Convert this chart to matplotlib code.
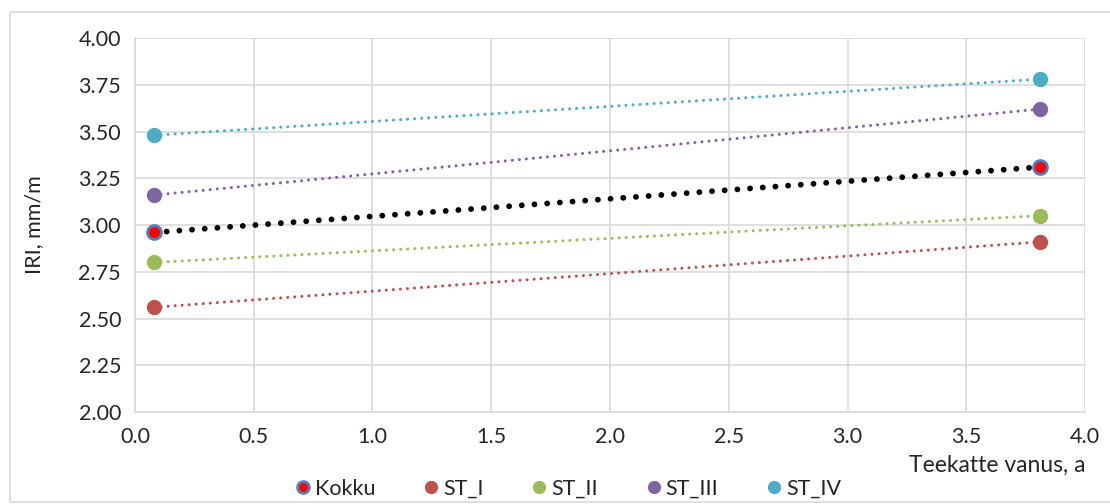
import numpy as np
import matplotlib
matplotlib.use("Agg")
import matplotlib.pyplot as plt
from matplotlib.patches import Rectangle

plt.rcParams['font.family'] = ['Lato', 'DejaVu Sans']

# Pavement age (years) and IRI values per road class
age = [0.08, 3.81]
kokku = [2.96, 3.31]
st_i = [2.56, 2.91]
st_ii = [2.80, 3.05]
st_iii = [3.16, 3.62]
st_iv = [3.48, 3.78]

series_names = ["Kokku", "ST_I", "ST_II", "ST_III", "ST_IV"]
x_ticks = [0.0, 0.5, 1.0, 1.5, 2.0, 2.5, 3.0, 3.5, 4.0]
y_ticks = [2.00, 2.25, 2.50, 2.75, 3.00, 3.25, 3.50, 3.75, 4.00]

colors = {
    "ST_I": "#C0504D",
    "ST_II": "#9BBB59",
    "ST_III": "#8064A2",
    "ST_IV": "#4BACC6",
}

fig = plt.figure(figsize=(11.1, 5.04), dpi=100)
ax = fig.add_axes([0.1216, 0.1825, 0.8559, 0.7421])

# outer chart frame
fig.patches.append(Rectangle((0.009, 0.004), 1.05, 0.972, transform=fig.transFigure,
                             fill=False, edgecolor="#d9d9d9", linewidth=1.2))

xs = np.array(age)

def trend(vals, color, lw, dash):
    k, b = np.polyfit(xs, vals, 1)
    ln, = ax.plot(xs, k * xs + b, color=color, linewidth=lw, zorder=2,
                  dash_capstyle="round", solid_capstyle="round")
    ln.set_linestyle((0, dash))

# colored series with their linear trendlines
for name, vals in [("ST_I", st_i), ("ST_II", st_ii), ("ST_III", st_iii), ("ST_IV", st_iv)]:
    trend(vals, colors[name], 2.2, (0.01, 2.3))
    ax.plot(age, vals, linestyle="none", marker="o", markersize=10,
            color=colors[name], label=name, zorder=3)

# total series
trend(kokku, "black", 4.2, (0.01, 2.17))
ax.plot(age, kokku, linestyle="none", marker="o", markersize=10,
        markerfacecolor="#FF0000", markeredgecolor="#4F81BD", markeredgewidth=2.0,
        label="Kokku", zorder=4)

ax.set_xlim(0, 4)
ax.set_ylim(2, 4)
ax.set_xticks(x_ticks)
ax.set_xticklabels([f"{v:.1f}" for v in x_ticks])
ax.set_yticks(y_ticks)
ax.set_yticklabels([f"{v:.2f}" for v in y_ticks])
ax.tick_params(axis="both", length=0, labelsize=15.5, colors="#262626", pad=10)
ax.tick_params(axis="x", pad=11)
ax.grid(True, color="#d9d9d9", linewidth=1.2)
ax.set_axisbelow(True)
for s in ["top", "right"]:
    ax.spines[s].set_visible(False)
for s in ["left", "bottom"]:
    ax.spines[s].set_color("#d9d9d9")
    ax.spines[s].set_linewidth(1.2)

fig.text(0.031, 0.555, "IRI, mm/m", rotation=90, ha="center", va="center",
         fontsize=15.5, color="#262626")
fig.text(0.978, 0.076, "Teekatte vanus, a", ha="right", va="center",
         fontsize=16.5, color="#262626")

handles, labels = ax.get_legend_handles_labels()
order = [labels.index(n) for n in series_names]
fig.legend([handles[i] for i in order], [labels[i] for i in order],
           loc="center", bbox_to_anchor=(0.51, 0.03), ncol=5, frameon=False,
           fontsize=15.5, handletextpad=0.0, columnspacing=2.05, handlelength=1.1,
           markerscale=0.85, labelcolor="#262626")

fig.savefig("out.png", dpi=100)
